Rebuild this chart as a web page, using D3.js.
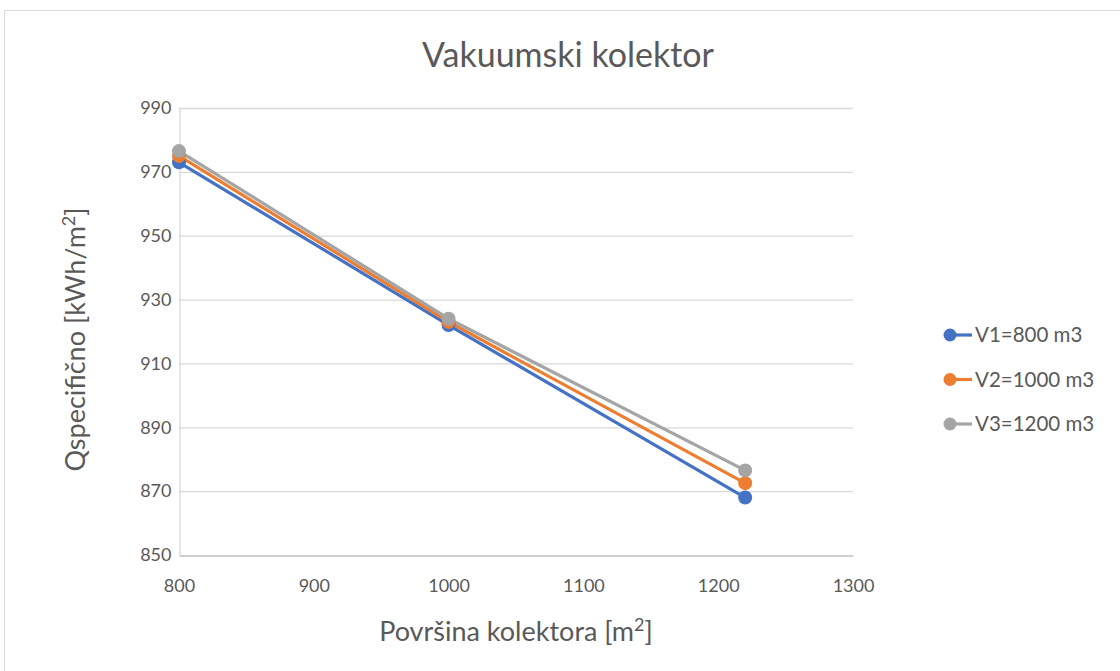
<!DOCTYPE html>
<html><head><meta charset="utf-8">
<script src="https://cdn.jsdelivr.net/npm/d3@7"></script>
<style>body{margin:0;background:#fff;} svg{display:block;font-family:Lato,sans-serif;}</style>
</head><body>
<svg id="c" width="1120" height="671"></svg>
<script>
const xValues = [800, 1000, 1220];
const seriesNames = ["V1=800 m3", "V2=1000 m3", "V3=1200 m3"];
const v1 = [973, 922, 868];
const v2 = [975, 923, 872.5];
const v3 = [976.5, 924, 876.5];
const colors = ["#4472c4", "#ed7d31", "#a5a5a5"];
const xTicks = [800, 900, 1000, 1100, 1200, 1300];
const yTicks = [850, 870, 890, 910, 930, 950, 970, 990];

const series = [v1, v2, v3];
const svg = d3.select("#c");
svg.append("rect").attr("x",4.5).attr("y",10.5).attr("width",1130).attr("height",680)
  .attr("fill","#fff").attr("stroke","#d9d9d9");

const x = d3.scaleLinear().domain([800,1300]).range([179,853]);
const y = d3.scaleLinear().domain([850,990]).range([555,108]);
const FS = "Lato";

svg.append("g").selectAll("line").data(yTicks.filter(d=>d>850)).join("line")
  .attr("x1",x(800)).attr("x2",x(1300)).attr("y1",d=>y(d)+0.5).attr("y2",d=>y(d)+0.5)
  .attr("stroke","#d9d9d9").attr("stroke-width",1.3);

const xa = svg.append("g").attr("transform",`translate(0,${y(850)+0.5})`)
  .call(d3.axisBottom(x).tickValues(xTicks).tickFormat(d3.format("d")).tickSize(0).tickPadding(24));
xa.select(".domain").attr("stroke","#bfbfbf").attr("stroke-width",1.3);
xa.selectAll("text").attr("fill","#595959").style("font-size","18px").style("font-family",FS);

const ya = svg.append("g").attr("transform",`translate(${x(800)+0.5},0)`)
  .call(d3.axisLeft(y).tickValues(yTicks).tickFormat(d3.format("d")).tickSize(0).tickPadding(8));
ya.select(".domain").attr("stroke","#d9d9d9").attr("stroke-width",1.3);
ya.selectAll("text").attr("fill","#595959").style("font-size","18px").style("font-family",FS);

const line = d3.line().x((d,i)=>x(xValues[i])).y(d=>y(d));
series.forEach((s,k)=>{
  svg.append("path").datum(s).attr("d",line).attr("fill","none")
    .attr("stroke",colors[k]).attr("stroke-width",3.2).attr("stroke-linejoin","round");
});
series.forEach((s,k)=>{
  svg.append("g").selectAll("circle").data(s).join("circle")
    .attr("cx",(d,i)=>x(xValues[i])).attr("cy",d=>y(d)).attr("r",7).attr("fill",colors[k]);
});

svg.append("text").attr("x",568).attr("y",67).attr("text-anchor","middle")
  .attr("fill","#595959").style("font-size","34px").text("Vakuumski kolektor");

const xt = svg.append("text").attr("x",516).attr("y",641).attr("text-anchor","middle")
  .attr("fill","#595959").style("font-size","27px");
xt.append("tspan").text("Površina kolektora [m");
xt.append("tspan").attr("dy",-10).style("font-size","18px").text("2");
xt.append("tspan").attr("dy",10).text("]");

const yt = svg.append("text").attr("transform",`translate(85,${(y(850)+y(990))/2 + 8}) rotate(-90)`)
  .attr("text-anchor","middle").attr("fill","#595959").style("font-size","27px");
yt.append("tspan").text("Qspecifično [kWh/m");
yt.append("tspan").attr("dy",-10).style("font-size","18px").text("2");
yt.append("tspan").attr("dy",10).text("]");

const lg = svg.append("g");
seriesNames.forEach((n,k)=>{
  const ly = 335 + k*44.5;
  lg.append("line").attr("x1",945).attr("x2",972).attr("y1",ly).attr("y2",ly)
    .attr("stroke",colors[k]).attr("stroke-width",3.2);
  lg.append("circle").attr("cx",950).attr("cy",ly).attr("r",6.5).attr("fill",colors[k]);
  lg.append("text").attr("x",975).attr("y",ly+7).attr("fill","#595959")
    .style("font-size","20.5px").text(n);
});
</script>
</body></html>
